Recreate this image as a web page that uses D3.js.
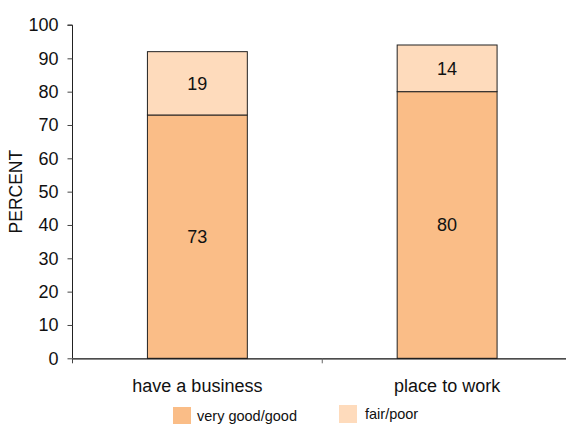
<!DOCTYPE html>
<html>
<head>
<meta charset="utf-8">
<script src="https://cdn.jsdelivr.net/npm/d3@7"></script>
<style>
  html, body { margin: 0; padding: 0; background: #fff; }
  svg { display: block; font-family: "Liberation Sans", Arial, sans-serif; }
</style>
</head>
<body>
<svg id="chart" width="566" height="424"></svg>
<script>
// Survey ratings, percent
const categories = ["have a business", "place to work"];
const seriesNames = ["very good/good", "fair/poor"];
const veryGoodGood = [73, 80];
const fairPoor = [19, 14];
const yTicks = [0, 10, 20, 30, 40, 50, 60, 70, 80, 90, 100];
const colors = ["#FABD87", "#FEDBBC"];

const svg = d3.select("#chart");
const margin = { left: 72.5, right: -6, top: 25, bottom: 66 };
const width = 566, height = 424;
const FONT = "Liberation Sans, Arial, sans-serif";

const x = d3.scaleBand()
  .domain(categories)
  .range([margin.left, width - margin.right])
  .paddingInner(0)
  .paddingOuter(0);

const y = d3.scaleLinear()
  .domain([0, 100])
  .range([height - margin.bottom + 0.3, margin.top]);

const rows = categories.map((c, i) => ({ category: c, "very good/good": veryGoodGood[i], "fair/poor": fairPoor[i] }));
const stacked = d3.stack().keys(seriesNames)(rows);

const barW = x.bandwidth() * 0.4;

const g = svg.append("g");

stacked.forEach((layer, li) => {
  g.selectAll(null)
    .data(layer)
    .enter()
    .append("rect")
    .attr("x", d => x(d.data.category) + (x.bandwidth() - barW) / 2)
    .attr("y", d => y(d[1]))
    .attr("width", barW)
    .attr("height", d => y(d[0]) - y(d[1]))
    .attr("fill", colors[li])
    .attr("stroke", "#222")
    .attr("stroke-width", 1);

  g.selectAll(null)
    .data(layer)
    .enter()
    .append("text")
    .attr("x", d => x(d.data.category) + x.bandwidth() / 2)
    .attr("y", d => (y(d[0]) + y(d[1])) / 2)
    .attr("dy", "0.36em")
    .attr("text-anchor", "middle")
    .attr("font-size", 18)
    .attr("fill", "#111")
    .text(d => d[1] - d[0]);
});

// Y axis
const yAxis = d3.axisLeft(y).tickValues(yTicks).tickSize(5).tickPadding(9);
const yg = svg.append("g").attr("transform", `translate(${margin.left},0)`).call(yAxis);
yg.select(".domain").attr("stroke", "#222").attr("d", `M-5,${y(100)}H0V${y(0)}`);
yg.selectAll(".tick line").attr("stroke", "#444");
yg.selectAll(".tick text").attr("font-size", 18).attr("fill", "#111").attr("font-family", FONT);

// X axis
const xAxis = d3.axisBottom(x).tickSize(0).tickPadding(20.5);
const xg = svg.append("g").attr("transform", `translate(0,${y(0)})`).call(xAxis);
xg.select(".domain").attr("stroke", "#111").attr("stroke-width", 1.2);
xg.selectAll(".tick text").attr("font-size", 18).attr("fill", "#111").attr("font-family", FONT);
// Category separators
xg.selectAll(null)
  .data(categories.slice(1))
  .enter()
  .append("line")
  .attr("x1", d => x(d)).attr("x2", d => x(d))
  .attr("y1", 0).attr("y2", 5)
  .attr("stroke", "#666");
xg.append("line").attr("x1", margin.left).attr("x2", margin.left)
  .attr("y1", 0).attr("y2", 5).attr("stroke", "#444");

// Y axis title
svg.append("text")
  .attr("transform", `translate(22,${(y(0) + y(100)) / 2}) rotate(-90)`)
  .attr("text-anchor", "middle")
  .attr("font-size", 17.5)
  .attr("fill", "#111")
  .text("PERCENT");

// Legend
const legendPos = [{ x: 173, y: 407, tx: 197, ty: 421 }, { x: 339, y: 405, tx: 365, ty: 419 }];
const legend = svg.append("g");
seriesNames.forEach((name, i) => {
  const p = legendPos[i];
  legend.append("rect").attr("x", p.x).attr("y", p.y).attr("width", 18).attr("height", 18)
    .attr("fill", colors[i]);
  legend.append("text").attr("x", p.tx).attr("y", p.ty)
    .attr("font-size", 14.5).attr("fill", "#111").text(name);
});
</script>
</body>
</html>
